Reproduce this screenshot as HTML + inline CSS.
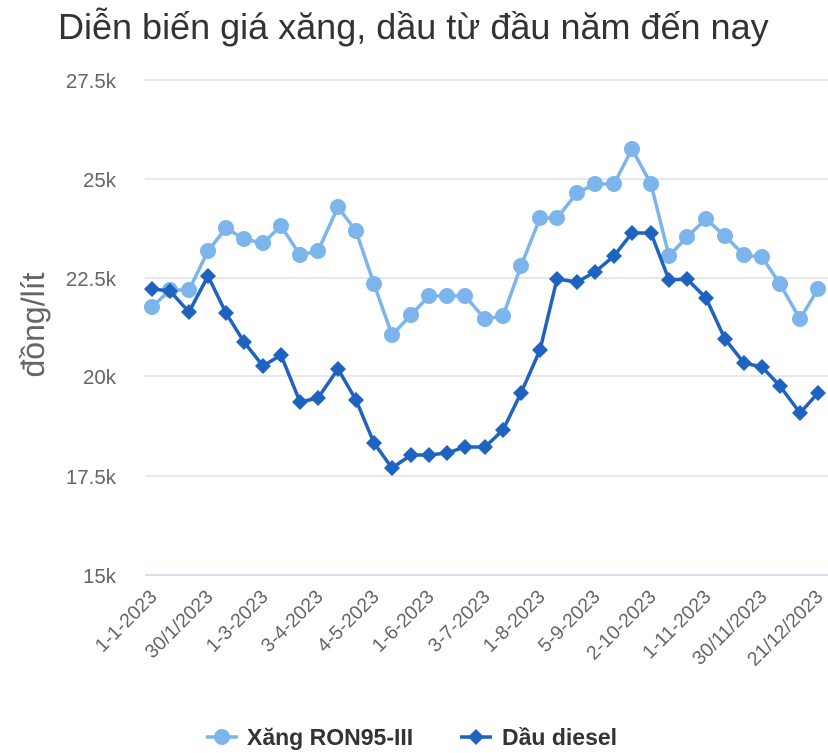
<!DOCTYPE html><html><head><meta charset="utf-8"><style>body{margin:0;background:#fff}svg{display:block;font-family:"Liberation Sans",Arial,sans-serif}</style></head><body>
<svg width="828" height="753" viewBox="0 0 828 753">
<text x="58" y="39" font-size="36" fill="#333">Diễn biến giá xăng, dầu từ đầu năm đến nay</text>
<g stroke="#e0e0e0" stroke-width="1.5">
<line x1="145" x2="828" y1="80" y2="80"/><line x1="145" x2="828" y1="179" y2="179"/><line x1="145" x2="828" y1="278" y2="278"/><line x1="145" x2="828" y1="376" y2="376"/><line x1="145" x2="828" y1="476" y2="476"/></g>
<line x1="145" x2="828" y1="575" y2="575" stroke="#ccd6eb" stroke-width="1.5"/>
<g font-size="20.5" fill="#666" text-anchor="end">
<text x="116" y="88">27.5k</text><text x="116" y="187">25k</text><text x="116" y="286">22.5k</text><text x="116" y="384">20k</text><text x="116" y="484">17.5k</text><text x="116" y="583">15k</text></g>
<text transform="translate(44,325) rotate(-90)" font-size="32" fill="#666" text-anchor="middle">đồng/lít</text>
<g font-size="19.5" fill="#666" text-anchor="end">
<text transform="translate(158,598) rotate(-45)">1-1-2023</text>
<text transform="translate(214,598) rotate(-45)">30/1/2023</text>
<text transform="translate(269,598) rotate(-45)">1-3-2023</text>
<text transform="translate(324,598) rotate(-45)">3-4-2023</text>
<text transform="translate(380,598) rotate(-45)">4-5-2023</text>
<text transform="translate(435,598) rotate(-45)">1-6-2023</text>
<text transform="translate(491,598) rotate(-45)">3-7-2023</text>
<text transform="translate(546,598) rotate(-45)">1-8-2023</text>
<text transform="translate(601,598) rotate(-45)">5-9-2023</text>
<text transform="translate(657,598) rotate(-45)">2-10-2023</text>
<text transform="translate(712,598) rotate(-45)">1-11-2023</text>
<text transform="translate(768,598) rotate(-45)">30/11/2023</text>
<text transform="translate(824,598) rotate(-45)">21/12/2023</text></g>
<polyline fill="none" stroke="#7cb5ec" stroke-width="3.5" stroke-linejoin="round" points="152,307 170,290 189,290 208,251 226,228 244,239 263,243 281,226 300,255 318,251 338,207 356,231 374,284 392,335 411,315 429,296 447,296 465,296 485,319 503,316 521,266 540,218 557,218 577,193 595,184 614,184 632,149 651,184 669,256 687,237 706,219 725,236 744,255 762,257 780,284 800,319 818,289"/>
<g fill="#7cb5ec" id="c"></g>
<polyline fill="none" stroke="#1f63c0" stroke-width="3.5" stroke-linejoin="round" points="152,289 170,291 189,312 208,276 226,313 244,342 263,366 281,355 300,402 318,398 338,369 356,400 374,443 392,468 411,455 429,455 447,453 465,447 485,447 503,430 521,393 540,350 557,279 577,282 595,272 614,256 632,233 651,233 669,280 687,279 706,298 725,339 744,363 762,367 780,386 800,413 818,393"/>
<g fill="#1f63c0" id="d"></g>
<line x1="206" x2="238" y1="737" y2="737" stroke="#7cb5ec" stroke-width="3.5"/><circle cx="222" cy="737" r="8" fill="#7cb5ec"/>
<text x="247" y="745" font-size="23" font-weight="bold" fill="#333">Xăng RON95-III</text>
<line x1="460" x2="492" y1="737" y2="737" stroke="#1f63c0" stroke-width="3.5"/><path d="M476 729 L484 737 L476 745 L468 737Z" fill="#1f63c0"/>
<text x="502" y="745" font-size="23" font-weight="bold" fill="#333">Dầu diesel</text>
<script>
var ns="http://www.w3.org/2000/svg";
var ps=document.querySelectorAll("polyline");
function pts(p){return p.getAttribute("points").trim().split(/\s+/).map(function(s){return s.split(",").map(Number)});}
pts(ps[0]).forEach(function(q){var c=document.createElementNS(ns,"circle");c.setAttribute("cx",q[0]);c.setAttribute("cy",q[1]);c.setAttribute("r",8);document.getElementById("c").appendChild(c);});
pts(ps[1]).forEach(function(q){var c=document.createElementNS(ns,"path");var x=q[0],y=q[1];c.setAttribute("d","M"+x+" "+(y-8)+"L"+(x+8)+" "+y+"L"+x+" "+(y+8)+"L"+(x-8)+" "+y+"Z");document.getElementById("d").appendChild(c);});
</script>
</svg></body></html>
